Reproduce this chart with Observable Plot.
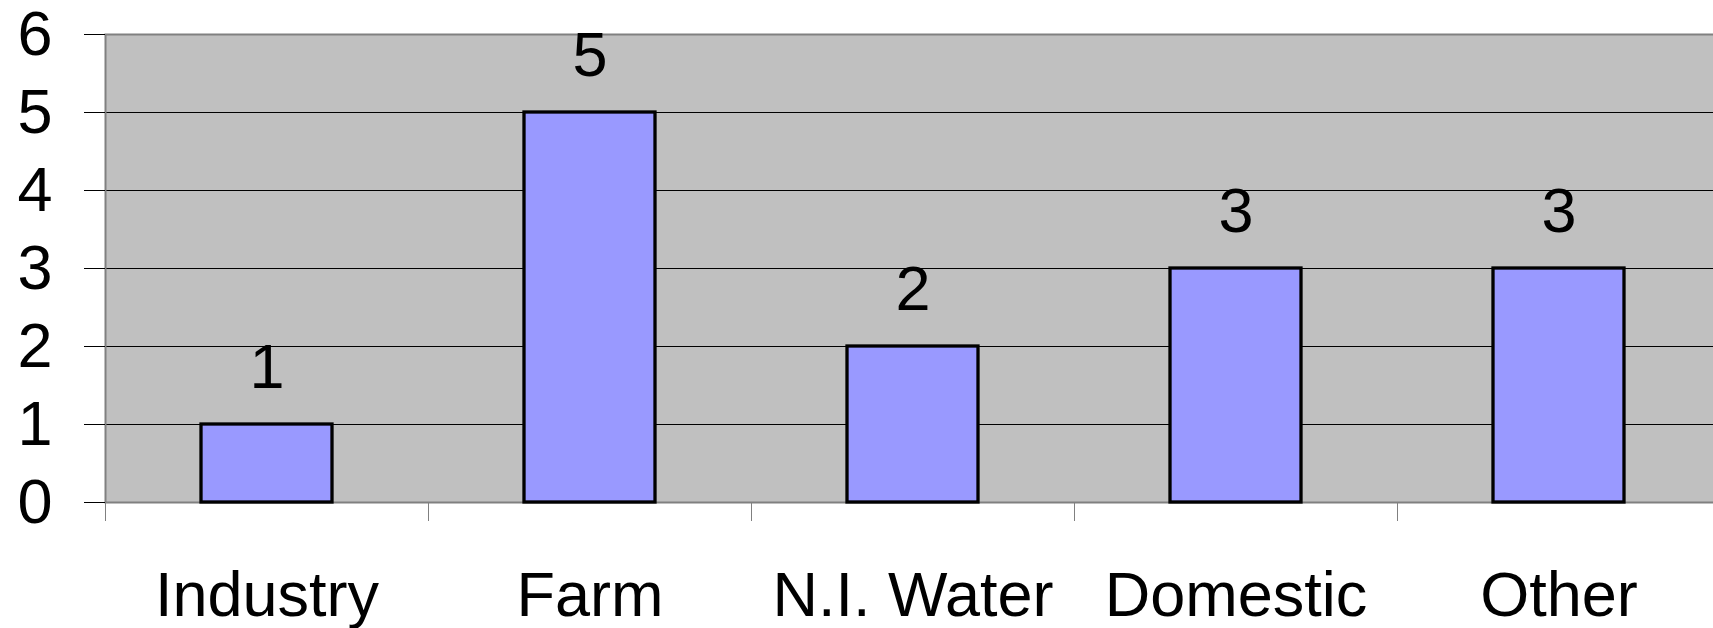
<!DOCTYPE html>
<html><head><meta charset="utf-8">
<script src="https://cdn.jsdelivr.net/npm/d3@7"></script>
<script src="https://cdn.jsdelivr.net/npm/@observablehq/plot@0.6"></script>
<style>html,body{margin:0;padding:0;background:#fff;overflow:hidden}</style>
</head><body><div id="chart"></div>
<script>
const categories = ["Industry", "Farm", "N.I. Water", "Domestic", "Other"];
const values = [1, 5, 2, 3, 3];
const yTicks = [0, 1, 2, 3, 4, 5, 6];
const gridTicks = [1, 2, 3, 4, 5];
const data = categories.map((c, i) => ({category: c, value: values[i]}));

const width = 1713, height = 628;
const marginLeft = 105, marginRight = -7, marginTop = 34, marginBottom = 126;
const bw = (width - marginLeft - marginRight) / categories.length;
const font = "'Liberation Sans', Arial, sans-serif";
const fs = 63;

const chart = Plot.plot({
  width, height, marginLeft, marginRight, marginTop, marginBottom,
  style: {fontFamily: font, background: "white", overflow: "visible"},
  x: {type: "band", domain: categories, padding: 0, label: null},
  y: {domain: [0, 6], ticks: yTicks, label: null},
  marks: [
    Plot.frame({fill: "#c0c0c0", stroke: null}),
    Plot.gridY(gridTicks, {stroke: "#000", strokeOpacity: 1, strokeWidth: 1}),
    Plot.frame({stroke: "#808080", strokeWidth: 2}),
    Plot.axisY(yTicks, {tickSize: 21, tickPadding: 32, fontSize: fs, stroke: "#000", fill: "#000", tickFormat: d => String(d), label: null}),
    Plot.axisX({tickSize: 19, dx: -bw / 2, stroke: "#808080", tickFormat: () => "", label: null}),
    Plot.axisX({tickSize: 0, tickPadding: 69, fontSize: fs, fill: "#000", label: null}),
    Plot.barY(data, {x: "category", y: "value", fill: "#9999ff", stroke: "#000", strokeWidth: 3.3, insetLeft: 96, insetRight: 96}),
    Plot.text(data, {x: "category", y: "value", text: d => String(d.value), dy: -57, fontSize: fs, fill: "#000"})
  ]
});
document.getElementById("chart").appendChild(chart);
</script>
</body></html>
